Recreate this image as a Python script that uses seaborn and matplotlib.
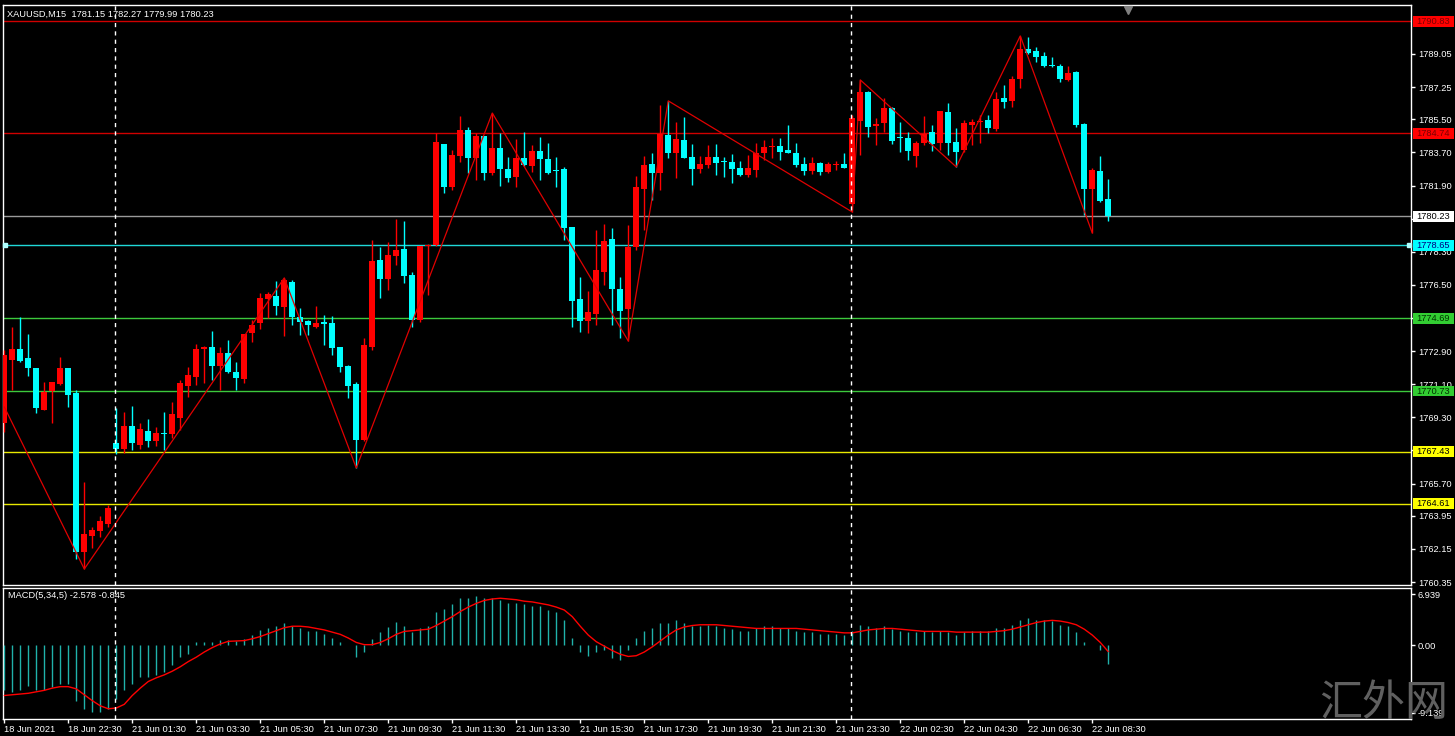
import numpy as np
import pandas as pd
import matplotlib
matplotlib.use("Agg")
import matplotlib.pyplot as plt
import seaborn as sns
from matplotlib.transforms import blended_transform_factory
from matplotlib.patches import Rectangle

sns.set_style("ticks")
plt.rcParams['font.family'] = ['Liberation Sans', 'DejaVu Sans']

# ---------------- data ----------------
opens = [1769.00, 1772.42, 1773.02, 1772.53, 1771.99, 1769.70, 1770.74, 1771.12, 1771.99, 1770.63,
         1761.99, 1762.85, 1763.13, 1763.51, 1767.91, 1767.58, 1768.83, 1767.80, 1768.56, 1768.02,
         1768.45, 1768.40, 1769.27, 1771.01, 1771.50, 1773.02, 1773.13, 1772.09, 1772.80, 1771.77,
         1771.39, 1773.89, 1774.43, 1775.74, 1775.90, 1775.30, 1776.66, 1774.76, 1774.54, 1774.21,
         1774.45, 1774.43, 1773.13, 1772.09, 1771.12, 1768.07, 1773.13, 1777.85, 1776.82, 1778.07,
         1778.45, 1777.04, 1774.59, 1778.62, 1778.67, 1784.16, 1781.82, 1783.51, 1784.92, 1783.40,
         1784.59, 1782.58, 1783.94, 1782.80, 1782.37, 1783.40, 1782.96, 1783.78, 1783.34, 1782.72,
         1782.80, 1779.65, 1775.74, 1774.54, 1774.92, 1777.20, 1779.00, 1776.28, 1775.19, 1778.56,
         1781.71, 1783.07, 1782.58, 1784.65, 1783.67, 1784.38, 1783.45, 1782.80, 1783.02, 1783.45,
         1783.20, 1783.18, 1782.85, 1782.47, 1782.75, 1783.67, 1784.00, 1784.05, 1783.83, 1783.67,
         1783.07, 1782.69, 1783.13, 1782.64, 1783.00, 1783.07, 1780.90, 1785.41, 1786.99, 1785.14,
         1785.30, 1786.12, 1784.52, 1784.49, 1783.51, 1784.21, 1784.81, 1784.21, 1785.90, 1784.27,
         1783.83, 1785.19, 1785.35, 1785.46, 1784.97, 1786.66, 1786.50, 1787.69, 1789.32, 1789.21,
         1788.94, 1788.42, 1788.40, 1787.64, 1788.07, 1785.25, 1781.71, 1782.69, 1781.15]
highs = [1772.96, 1774.21, 1774.76, 1773.83, 1771.99, 1771.22, 1771.22, 1772.58, 1771.99, 1770.79,
         1765.79, 1763.34, 1763.94, 1764.54, 1769.81, 1769.59, 1769.92, 1769.00, 1769.21, 1768.78,
         1769.59, 1770.14, 1771.33, 1772.04, 1773.29, 1773.18, 1774.00, 1773.13, 1773.51, 1772.31,
         1773.83, 1774.59, 1776.06, 1776.12, 1776.71, 1776.88, 1776.77, 1775.25, 1774.59, 1775.36,
         1774.87, 1774.81, 1773.13, 1772.15, 1771.22, 1773.62, 1778.94, 1778.56, 1778.83, 1780.08,
         1779.97, 1777.20, 1778.62, 1778.72, 1784.76, 1784.16, 1783.83, 1785.68, 1785.08, 1784.76,
         1784.59, 1785.84, 1784.76, 1783.45, 1784.43, 1784.81, 1784.10, 1784.54, 1784.21, 1783.45,
         1782.91, 1779.65, 1776.93, 1776.17, 1779.49, 1779.81, 1779.59, 1776.93, 1779.76, 1782.42,
         1783.51, 1783.67, 1786.28, 1786.50, 1785.35, 1785.63, 1784.16, 1783.51, 1784.10, 1784.16,
         1783.45, 1783.62, 1783.24, 1783.56, 1784.21, 1784.38, 1784.49, 1784.49, 1785.19, 1784.21,
         1783.45, 1783.45, 1783.18, 1783.18, 1783.24, 1783.67, 1785.74, 1787.64, 1787.04, 1785.57,
         1786.66, 1786.17, 1785.35, 1784.81, 1784.32, 1785.68, 1785.19, 1785.95, 1786.39, 1785.03,
         1785.46, 1785.52, 1785.74, 1785.74, 1786.99, 1787.37, 1787.85, 1790.03, 1789.97, 1789.43,
         1789.16, 1788.89, 1788.51, 1788.40, 1788.13, 1785.30, 1782.85, 1783.51, 1782.27]
lows = [1768.51, 1770.79, 1772.31, 1771.55, 1769.54, 1769.70, 1769.00, 1771.06, 1769.87, 1761.60,
        1761.06, 1762.20, 1762.80, 1763.34, 1767.31, 1767.37, 1767.53, 1767.58, 1767.69, 1767.75,
        1767.53, 1768.18, 1768.62, 1770.41, 1771.06, 1771.17, 1771.33, 1770.79, 1771.71, 1770.79,
        1771.17, 1773.40, 1774.11, 1774.70, 1774.87, 1773.72, 1774.32, 1773.78, 1773.78, 1774.16,
        1773.24, 1772.69, 1771.77, 1770.36, 1766.55, 1768.02, 1772.96, 1775.79, 1776.22, 1777.58,
        1776.61, 1774.21, 1774.49, 1775.95, 1778.62, 1781.50, 1781.66, 1783.18, 1782.58, 1782.20,
        1782.20, 1782.47, 1781.88, 1782.09, 1781.82, 1782.96, 1782.64, 1782.20, 1782.53, 1781.82,
        1778.94, 1774.21, 1773.94, 1773.89, 1774.32, 1776.50, 1774.32, 1773.62, 1773.45, 1778.40,
        1779.49, 1781.12, 1781.66, 1783.40, 1782.31, 1783.40, 1781.93, 1782.58, 1782.85, 1782.47,
        1782.37, 1782.04, 1782.42, 1782.37, 1782.37, 1783.29, 1783.40, 1783.29, 1783.65, 1782.91,
        1782.47, 1782.53, 1782.47, 1782.58, 1782.75, 1782.85, 1780.46, 1783.56, 1784.54, 1784.10,
        1784.81, 1784.16, 1783.72, 1783.29, 1782.91, 1784.10, 1783.78, 1783.83, 1783.56, 1782.91,
        1783.72, 1784.10, 1784.21, 1784.76, 1784.87, 1786.12, 1786.17, 1787.20, 1789.05, 1788.62,
        1788.34, 1788.34, 1787.53, 1787.58, 1785.08, 1780.30, 1779.32, 1781.01, 1779.99]
closes = [1772.70, 1773.02, 1772.37, 1771.99, 1769.81, 1770.68, 1771.22, 1771.99, 1770.52, 1761.99,
          1762.96, 1763.18, 1763.67, 1764.38, 1767.58, 1768.83, 1767.91, 1768.67, 1768.02, 1768.45,
          1768.40, 1769.49, 1771.17, 1771.61, 1773.02, 1773.13, 1772.09, 1772.80, 1771.77, 1771.44,
          1773.83, 1774.32, 1775.79, 1776.01, 1775.36, 1776.77, 1774.76, 1774.49, 1774.32, 1774.43,
          1774.40, 1773.07, 1772.04, 1771.01, 1768.07, 1773.24, 1777.80, 1776.82, 1778.13, 1778.40,
          1776.99, 1774.59, 1778.62, 1778.67, 1784.27, 1781.82, 1783.56, 1784.92, 1783.40, 1784.59,
          1782.58, 1783.94, 1782.80, 1782.31, 1783.40, 1783.02, 1783.78, 1783.34, 1782.58, 1782.69,
          1779.59, 1775.63, 1774.54, 1775.03, 1777.31, 1778.89, 1776.28, 1775.08, 1778.56, 1781.82,
          1783.02, 1782.58, 1784.70, 1783.67, 1784.43, 1783.40, 1782.80, 1783.07, 1783.45, 1783.13,
          1783.16, 1782.80, 1782.47, 1782.85, 1783.67, 1784.00, 1784.05, 1783.72, 1783.65, 1783.02,
          1782.69, 1783.13, 1782.64, 1783.07, 1783.04, 1782.85, 1785.57, 1786.99, 1785.08, 1785.25,
          1786.12, 1784.32, 1784.49, 1783.78, 1784.21, 1784.70, 1784.16, 1785.95, 1784.21, 1783.72,
          1785.30, 1785.35, 1785.41, 1785.03, 1786.60, 1786.44, 1787.69, 1789.32, 1789.10, 1788.89,
          1788.40, 1788.38, 1787.69, 1788.02, 1785.19, 1781.71, 1782.75, 1781.06, 1780.23]

zigzag_idx = [0, 10, 35, 44, 61, 78, 83, 106, 107, 119, 127, 136]
zigzag_price = [1769.87, 1761.06, 1776.88, 1766.55, 1785.84, 1773.45, 1786.50,
                1780.46, 1787.64, 1782.91, 1790.03, 1779.32]

macd_main = [-6.1, -6.3, -6.0, -5.5, -6.1, -6.1, -5.7, -5.2, -5.2, -7.6,
             -8.6, -9.1, -9.1, -8.6, -7.3, -6.0, -5.2, -4.3, -4.3, -4.0,
             -3.6, -2.7, -1.6, -1.1, 0.45, 0.45, 0.5, 0.7, 0.7, 0.55,
             0.9, 1.4, 2.1, 2.3, 2.7, 3.0, 2.6, 2.3, 1.95, 1.95,
             1.5, 1.05, 0.45, 0.05, -1.6, -0.9, 0.9, 1.8, 2.5, 3.2,
             2.7, 1.8, 2.3, 2.6, 4.5, 5.0, 5.6, 6.4, 6.4, 6.7,
             6.4, 6.4, 6.1, 5.8, 5.8, 5.6, 5.4, 5.3, 4.8, 4.5,
             3.4, 1.0, -0.9, -1.5, -0.9, -0.6, -1.7, -2.0, -0.6, 1.0,
             2.0, 2.3, 3.1, 3.1, 3.4, 3.1, 2.7, 2.7, 2.8, 2.6,
             2.4, 2.2, 1.9, 2.0, 2.3, 2.6, 2.6, 2.4, 2.3, 2.0,
             1.8, 1.8, 1.6, 1.6, 1.5, 1.4, 2.0, 2.8, 2.6, 2.4,
             2.7, 2.2, 2.0, 1.8, 1.8, 1.9, 1.8, 2.0, 1.8, 1.4,
             1.8, 1.9, 2.0, 1.9, 2.3, 2.4, 2.8, 3.5, 3.7, 3.5,
             3.4, 3.3, 2.8, 2.7, 1.8, 0.4, 0.0, -0.6, -2.578]
macd_signal = [-6.8, -6.7, -6.6, -6.5, -6.3, -6.1, -5.8, -5.6, -5.6, -5.9,
               -6.7, -7.5, -8.2, -8.6, -8.5, -8.0, -6.8, -5.8, -4.9, -4.4,
               -4.0, -3.5, -2.9, -2.2, -1.6, -0.9, -0.3, 0.2, 0.55, 0.6,
               0.65, 0.9, 1.2, 1.6, 2.0, 2.4, 2.6, 2.6, 2.5, 2.3,
               2.1, 1.8, 1.5, 1.0, 0.4, 0.1, 0.1, 0.4, 0.9, 1.5,
               1.9, 2.0, 2.1, 2.2, 2.7, 3.3, 3.9, 4.6, 5.2, 5.7,
               6.1, 6.3, 6.4, 6.3, 6.2, 6.0, 5.9, 5.7, 5.5, 5.2,
               4.8, 3.9, 2.6, 1.4, 0.5, -0.1, -0.7, -1.2, -1.5, -1.4,
               -0.9, -0.2, 0.6, 1.4, 2.1, 2.5, 2.7, 2.8, 2.8, 2.8,
               2.7, 2.6, 2.5, 2.4, 2.3, 2.3, 2.3, 2.3, 2.3, 2.3,
               2.2, 2.1, 2.0, 1.9, 1.8, 1.7, 1.7, 1.9, 2.1, 2.2,
               2.3, 2.3, 2.2, 2.1, 2.0, 1.9, 1.9, 1.9, 1.9, 1.8,
               1.8, 1.8, 1.8, 1.8, 1.9, 2.0, 2.2, 2.5, 2.8, 3.1,
               3.3, 3.4, 3.3, 3.1, 2.8, 2.2, 1.4, 0.4, -0.845]

level_prices = [1790.83, 1784.74, 1780.23, 1778.65, 1774.69, 1770.73, 1767.43, 1764.61]
level_line_colors = ['#D00000', '#D00000', '#9A9A9A', '#20D8D8', '#3CC83C', '#3CC83C', '#E8E800', '#E8E800']
level_box_colors = ['#FF0000', '#FF0000', '#FFFFFF', '#00FFFF', '#32CD32', '#32CD32', '#FFFF00', '#FFFF00']
level_text_colors = ['#7A0000', '#7A0000', '#000000', '#000080', '#003000', '#003000', '#000000', '#000000']

price_ticks = [1789.05, 1787.25, 1785.50, 1783.70, 1781.90, 1780.10, 1778.30, 1776.50, 1774.70,
               1772.90, 1771.10, 1769.30, 1767.50, 1765.70, 1763.95, 1762.15, 1760.35]
macd_ticks = [6.939, 0.0, -9.139]
macd_tick_labels = ['6.939', '0.00', '-9.139']

time_tick_idx = [0, 8, 16, 24, 32, 40, 48, 56, 64, 72, 80, 88, 96, 104, 112, 120, 128, 136]
time_labels = ['18 Jun 2021', '18 Jun 22:30', '21 Jun 01:30', '21 Jun 03:30', '21 Jun 05:30',
               '21 Jun 07:30', '21 Jun 09:30', '21 Jun 11:30', '21 Jun 13:30', '21 Jun 15:30',
               '21 Jun 17:30', '21 Jun 19:30', '21 Jun 21:30', '21 Jun 23:30', '22 Jun 02:30',
               '22 Jun 04:30', '22 Jun 06:30', '22 Jun 08:30']
separator_idx = [14, 106]

header_text = 'XAUUSD,M15  1781.15 1782.27 1779.99 1780.23'
macd_text = 'MACD(5,34,5) -2.578 -0.845'
watermark = '汇外网'

# ---------------- figure ----------------
W, H = 1455, 736
fig = plt.figure(figsize=(W / 100, H / 100), dpi=100, facecolor='black')

ax = fig.add_axes([3 / W, 1 - 585 / H, 1408 / W, 580 / H], facecolor='black')
axm = fig.add_axes([3 / W, 1 - 719 / H, 1408 / W, 131 / H], facecolor='black')

XL = (-0.16, 175.84)
for a in (ax, axm):
    a.set_xlim(*XL)
    for s in a.spines.values():
        s.set_color('white')
        s.set_linewidth(1)
ax.set_ylim(1760.19, 1791.71)
axm.set_ylim(-9.99, 7.79)

df = pd.DataFrame({'o': opens, 'h': highs, 'l': lows, 'c': closes})
df['i'] = np.arange(len(df))
df['bull'] = df['c'] >= df['o']
df['col'] = np.where(df['bull'], '#FF0000', '#00FFFF')

# horizontal levels (behind candles)
for p, lc in zip(level_prices, level_line_colors):
    ax.axhline(p, color=lc, lw=1, zorder=1)

# wicks and bodies
ax.vlines(df['i'], df['l'], df['h'], colors=df['col'], lw=1, zorder=3)
body_low = np.minimum(df['o'], df['c'])
body_h = np.maximum(np.abs(df['c'] - df['o']), 0.06)
ax.bar(df['i'], body_h, bottom=body_low, width=0.7, color=df['col'], linewidth=0, zorder=4)

# zigzag
zz = pd.DataFrame({'i': zigzag_idx, 'p': zigzag_price})
sns.lineplot(data=zz, x='i', y='p', ax=ax, color='#E00000', lw=0.9, estimator=None, sort=False, zorder=5)

# separators
for a in (ax, axm):
    for s in separator_idx:
        a.axvline(s - 0.1, color='white', lw=1, ls=(0, (3, 3)), zorder=6)

# price axis ticks
ax.yaxis.tick_right()
ax.set_yticks(price_ticks)
ax.set_yticklabels([f'{v:.2f}' for v in price_ticks])
ax.tick_params(axis='y', colors='white', labelcolor='white', length=3, width=1, pad=2, labelsize=6.7)
ax.set_xticks([])
ax.set_xlabel('')
ax.set_ylabel('')

# level label boxes
tr = blended_transform_factory(fig.transFigure, ax.transData)
for p, bc, tc in zip(level_prices, level_box_colors, level_text_colors):
    ax.add_patch(Rectangle((1413 / W, p - 0.29), 41 / W, 0.58, transform=tr, facecolor=bc,
                           edgecolor='none', clip_on=False, zorder=10))
    ax.text(1416 / W, p, f'{p:.2f}', transform=tr, va='center', ha='left', fontsize=6.7,
            color=tc, zorder=11, clip_on=False)

# small square handles on the cyan line
trA = blended_transform_factory(ax.transAxes, ax.transData)
ax.plot([0.0015, 0.9985], [level_prices[3]] * 2, ls='none', marker='s', ms=3.2,
        color='#B0FFFF', transform=trA, clip_on=False, zorder=9)
# chart-shift triangle
ax.plot([0.7989], [0.992], marker='v', ms=6, color='#808080', transform=ax.transAxes,
        clip_on=False, zorder=9)

# MACD
axm.vlines(np.arange(len(macd_main)), 0, macd_main, colors='#20B2AA', lw=1, zorder=3)
md = pd.DataFrame({'i': np.arange(len(macd_signal)), 's': macd_signal})
sns.lineplot(data=md, x='i', y='s', ax=axm, color='#FF0000', lw=1, estimator=None, zorder=4)
axm.yaxis.tick_right()
axm.set_yticks(macd_ticks)
axm.set_yticklabels(macd_tick_labels)
axm.tick_params(axis='y', colors='white', labelcolor='white', length=3, width=1, pad=2, labelsize=6.7)
axm.set_xticks(time_tick_idx)
axm.set_xticklabels(time_labels, ha='left')
axm.tick_params(axis='x', colors='white', labelcolor='white', length=3, width=1, pad=1.5, labelsize=6.7)
axm.set_xlabel('')
axm.set_ylabel('')

# texts
fig.text(7 / W, 1 - 14 / H, header_text, color='white', fontsize=6.7, va='center', ha='left')
fig.text(8 / W, 1 - 596 / H, macd_text, color='white', fontsize=6.7, va='center', ha='left')
fig.text(1384 / W, 1 - 704 / H, watermark, color='#606060', fontsize=31, ha='center', va='center',
         family=['Noto Sans CJK SC', 'DejaVu Sans'], zorder=20)

fig.savefig('out.png', dpi=100, facecolor='black')
